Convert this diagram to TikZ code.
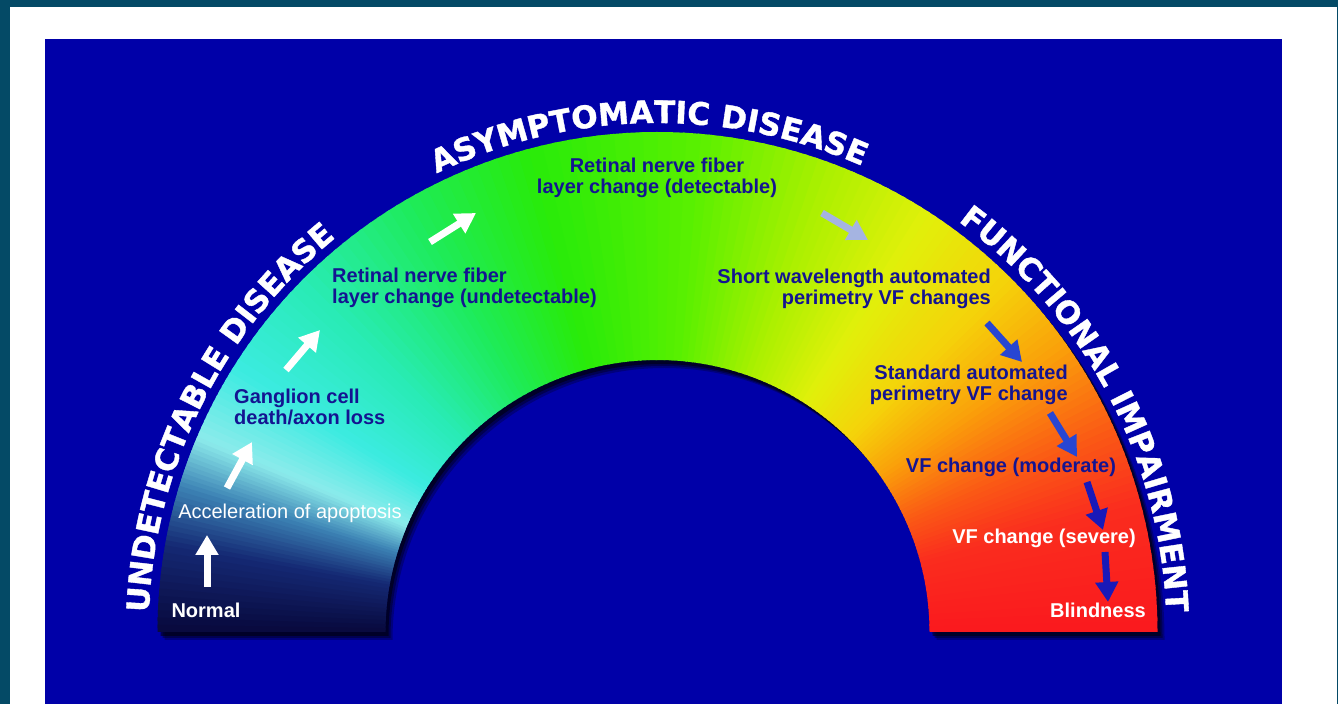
\documentclass[tikz,border=0pt]{standalone}
\usepackage{fontspec}
\setmainfont{Liberation Sans}
\newfontfamily\archfont{DejaVu Sans}[FakeBold=1.2]
\definecolor{glteal}{RGB}{4,74,102}
\definecolor{glback}{RGB}{0,0,168}
\definecolor{gltext}{RGB}{20,20,145}
\definecolor{gllight}{RGB}{165,180,225}
\definecolor{glblue}{RGB}{40,70,210}
\definecolor{gldeep}{RGB}{25,25,185}
% arch colours, named by angle
\definecolor{c0}{RGB}{250,25,30}
\definecolor{c15}{RGB}{250,45,30}
\definecolor{c25}{RGB}{250,95,20}
\definecolor{c35}{RGB}{250,160,10}
\definecolor{c45}{RGB}{245,210,10}
\definecolor{c57}{RGB}{225,240,10}
\definecolor{c70}{RGB}{170,240,0}
\definecolor{c85}{RGB}{90,240,0}
\definecolor{c105}{RGB}{40,235,10}
\definecolor{c120}{RGB}{30,235,90}
\definecolor{c135}{RGB}{40,235,180}
\definecolor{c148}{RGB}{60,235,225}
\definecolor{c157}{RGB}{140,235,235}
\definecolor{c163}{RGB}{60,130,180}
\definecolor{c170}{RGB}{20,40,115}
\definecolor{c180}{RGB}{8,8,60}
\usetikzlibrary{arrows.meta,decorations.text}

\begin{document}
\begin{tikzpicture}[x=1pt,y=1pt,
  lbl/.style={font=\bfseries\fontsize{20}{21.5}\selectfont, text=gltext, inner sep=0pt},
  wlbl/.style={lbl, text=white},
  arr/.style={line width=7pt, -{Triangle[length=20pt,width=22pt]}},
  ttl/.style={decorate, decoration={text along path, text align=center,
    text={|\archfont\bfseries\fontsize{31}{31}\selectfont\color{white}|#1}}}
]
  \useasboundingbox (0,0) rectangle (1338,704);
  % frame
  \fill[glteal] (0,0) rectangle (1338,704);
  \fill[white] (10,0) rectangle (1337,697);
  \fill[glback] (45,0) rectangle (1282,665);

  \begin{scope}[shift={(657.5,72)}]
    % shadow
    \foreach \dx/\dy/\o in {7/-8/0.25, 5/-6/0.35, 3/-4/0.5}
      \fill[black, opacity=\o, shift={(\dx,\dy)}] (0:500) arc[start angle=0, end angle=180, radius=500]
        -- (180:272) arc[start angle=180, end angle=0, radius=272] -- cycle;
    % the arch
    \begin{scope}
      \clip (-501,0) rectangle (501,501);
      \foreach \a/\b/\ca/\cb in {0/15/c0/c15, 15/25/c15/c25, 25/35/c25/c35, 35/45/c35/c45,
          45/57/c45/c57, 57/70/c57/c70, 70/85/c70/c85, 85/105/c85/c105, 105/120/c105/c120,
          120/135/c120/c135, 135/148/c135/c148, 148/157/c148/c157, 157/163/c157/c163,
          163/170/c163/c170, 170/180/c170/c180}{
        \foreach \i in {0,...,11}{
          \pgfmathsetmacro{\sa}{\a+(\b-\a)*\i/12}
          \pgfmathsetmacro{\sb}{\a+(\b-\a)*(\i+1)/12+0.4}
          \pgfmathtruncatemacro{\p}{(\i+0.5)*100/12}
          \fill[\cb!\p!\ca] (\sa:272) arc[start angle=\sa, end angle=\sb, radius=272]
            -- (\sb:500) arc[start angle=\sb, end angle=\sa, radius=500] -- cycle;
        }
      }
    \end{scope}
    % titles
    \path[ttl={UNDETECTABLE DISEASE}] (181:509) arc[start angle=181, end angle=126, radius=509];
    \path[ttl={ASYMPTOMATIC DISEASE}] (118:509) arc[start angle=118, end angle=64, radius=509];
    \path[ttl={FUNCTIONAL IMPAIRMENT}] (57:509) arc[start angle=57, end angle=-1, radius=509];
  \end{scope}

  % stages
  \node[wlbl] (normal) at (206,94) {Normal};
  \node[wlbl, font=\fontsize{20}{21.5}\selectfont] (accel) at (290,191) {Acceleration of apoptosis};
  \node[lbl, anchor=west, align=left] (ganglion) at (234,297) {Ganglion cell\\death/axon loss};
  \node[lbl, anchor=west, align=left] (rnflu) at (332,416) {Retinal nerve fiber\\layer change (undetectable)};
  \node[lbl, align=center] (rnfld) at (657,526) {Retinal nerve fiber\\layer change (detectable)};
  \node[lbl, anchor=east, align=right] (swap) at (991,415) {Short wavelength automated\\perimetry VF changes};
  \node[lbl, anchor=east, align=right] (sap) at (1068,319) {Standard automated\\perimetry VF change};
  \node[lbl] (vfmod) at (1011,237) {VF change (moderate)};
  \node[wlbl] (vfsev) at (1044,166) {VF change (severe)};
  \node[wlbl] (blind) at (1098,94) {Blindness};

  % arrow ends
  \coordinate (a1s) at (207,117); \coordinate (a1e) at (207,169);
  \coordinate (a2s) at (227,216); \coordinate (a2e) at (252,262);
  \coordinate (a3s) at (286,334); \coordinate (a3e) at (320,374);
  \coordinate (a4s) at (430,462); \coordinate (a4e) at (476,491);
  \coordinate (a5s) at (822,491); \coordinate (a5e) at (868,464);
  \coordinate (a6s) at (987,381); \coordinate (a6e) at (1022,342);
  \coordinate (a7s) at (1050,291); \coordinate (a7e) at (1077,247);
  \coordinate (a8s) at (1087,222); \coordinate (a8e) at (1103,174);
  \coordinate (a9s) at (1105,152); \coordinate (a9e) at (1108,102);

  \foreach \n in {1,...,4}
    \draw[arr, white] (a\n s) -- (a\n e);
  \draw[arr, gllight] (a5s) -- (a5e);
  \draw[arr, glblue] (a6s) -- (a6e);
  \draw[arr, glblue] (a7s) -- (a7e);
  \draw[arr, gldeep] (a8s) -- (a8e);
  \draw[arr, gldeep] (a9s) -- (a9e);
\end{tikzpicture}
\end{document}
